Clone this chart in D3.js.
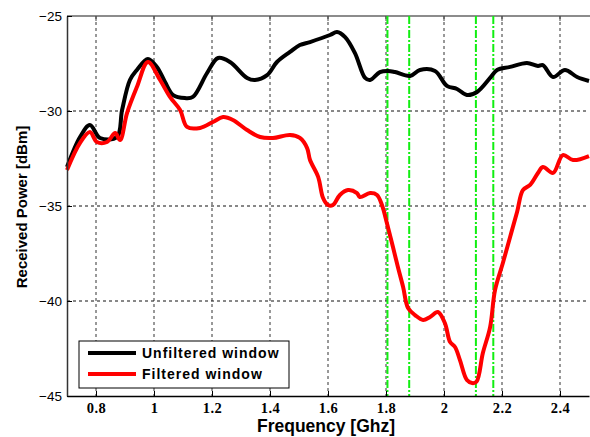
<!DOCTYPE html>
<html>
<head>
<meta charset="utf-8">
<script src="https://d3js.org/d3.v7.min.js"></script>
<style>
  body { margin: 0; background: #fff; }
  text { font-family: "Liberation Sans", Arial, sans-serif; }
</style>
</head>
<body>
<script>

// frequency [GHz] / received power [dBm]
var unfilteredF = [0.700,0.745,0.779,0.814,0.872,0.890,0.917,0.941,0.979,1.010,1.038,1.066,1.107,1.134,1.183,1.221,1.262,1.321,1.348,1.390,1.424,1.469,1.503,1.538,1.607,1.631,1.659,1.693,1.728,1.745,1.779,1.807,1.831,1.883,1.917,1.969,2.010,2.045,2.079,2.114,2.159,2.183,2.228,2.286,2.324,2.341,2.376,2.417,2.459,2.500];
var unfilteredP = [-32.95,-31.37,-30.74,-31.42,-31.37,-29.95,-28.37,-27.84,-27.26,-27.68,-28.47,-29.16,-29.32,-29.26,-28.00,-27.21,-27.42,-28.26,-28.37,-28.11,-27.42,-26.89,-26.53,-26.37,-26.00,-25.84,-26.11,-26.95,-28.26,-28.37,-27.95,-27.89,-27.95,-28.16,-27.84,-27.89,-28.68,-28.84,-29.16,-29.00,-28.26,-27.84,-27.68,-27.47,-27.63,-27.58,-28.21,-27.84,-28.21,-28.42];

var filteredF = [0.700,0.745,0.779,0.803,0.838,0.866,0.883,0.907,0.941,0.979,1.021,1.055,1.090,1.114,1.159,1.203,1.238,1.272,1.321,1.366,1.410,1.469,1.503,1.528,1.538,1.566,1.583,1.600,1.617,1.641,1.669,1.700,1.710,1.745,1.769,1.786,1.803,1.824,1.841,1.859,1.876,1.900,1.928,1.952,1.979,2.003,2.021,2.038,2.055,2.079,2.097,2.112,2.134,2.159,2.176,2.203,2.228,2.252,2.272,2.297,2.324,2.341,2.376,2.410,2.445,2.500];
var filteredP = [-33.11,-31.68,-31.11,-31.63,-31.63,-31.16,-31.53,-30.11,-28.74,-27.42,-28.37,-29.26,-29.95,-30.84,-30.89,-30.58,-30.32,-30.47,-31.00,-31.37,-31.42,-31.26,-31.42,-31.95,-32.58,-33.47,-34.58,-34.95,-34.95,-34.42,-34.16,-34.32,-34.53,-34.32,-34.42,-34.95,-35.89,-37.16,-38.21,-39.26,-40.37,-40.74,-41.00,-40.84,-40.58,-41.16,-42.16,-42.42,-43.11,-44.16,-44.32,-44.25,-42.74,-41.37,-39.42,-38.00,-36.63,-35.32,-34.16,-33.89,-33.26,-32.95,-33.26,-32.32,-32.58,-32.37];

// band edges (green dash-dot lines)
var bandEdges = [1.805, 1.880, 2.110, 2.170];

var xTicks = [0.8, 1, 1.2, 1.4, 1.6, 1.8, 2, 2.2, 2.4];
var yTicks = [-25, -30, -35, -40, -45];

var seriesNames = ["Unfiltered window", "Filtered window"];
var seriesColors = ["#000000", "#ff0000"];

var width = 590, height = 437;
var margin = {top: 16, right: 1, bottom: 41, left: 67};

var x = d3.scaleLinear().domain([0.7, 2.5]).range([margin.left, width - margin.right]);
var y = d3.scaleLinear().domain([-45, -25]).range([height - margin.bottom, margin.top]);

var svg = d3.select("body").append("svg")
    .attr("width", width)
    .attr("height", height);

// grid
svg.append("g")
  .selectAll("line")
  .data(xTicks)
  .enter().append("line")
    .attr("x1", function(d) { return x(d); })
    .attr("x2", function(d) { return x(d); })
    .attr("y1", y(-25))
    .attr("y2", y(-45))
    .attr("stroke", "#333")
    .attr("stroke-width", 1)
    .attr("stroke-dasharray", "3,3");

svg.append("g")
  .selectAll("line")
  .data(yTicks.slice(1, 4))
  .enter().append("line")
    .attr("x1", x(0.7))
    .attr("x2", x(2.5))
    .attr("y1", function(d) { return y(d); })
    .attr("y2", function(d) { return y(d); })
    .attr("stroke", "#111")
    .attr("stroke-width", 1)
    .attr("stroke-dasharray", "3,3");

// top border and its ticks
svg.append("line")
    .attr("x1", x(0.7)).attr("x2", width)
    .attr("y1", y(-25)).attr("y2", y(-25))
    .attr("stroke", "#666").attr("stroke-width", 1.5);

svg.append("g")
  .selectAll("line")
  .data(xTicks)
  .enter().append("line")
    .attr("x1", function(d) { return x(d); })
    .attr("x2", function(d) { return x(d); })
    .attr("y1", y(-25))
    .attr("y2", y(-25) + 5)
    .attr("stroke", "#444");

// band edges
svg.append("g")
  .selectAll("line")
  .data(bandEdges)
  .enter().append("line")
    .attr("x1", function(d) { return x(d); })
    .attr("x2", function(d) { return x(d); })
    .attr("y1", y(-25))
    .attr("y2", y(-45))
    .attr("stroke", "#11ee11")
    .attr("stroke-width", 2)
    .attr("stroke-dasharray", "8,2,2,2");

// curves
var line = d3.line()
    .x(function(d) { return x(d[0]); })
    .y(function(d) { return y(d[1]); })
    .curve(d3.curveCatmullRom.alpha(0.5));

var unfiltered = d3.zip(unfilteredF, unfilteredP);
var filtered = d3.zip(filteredF, filteredP);

svg.append("path")
    .datum(unfiltered)
    .attr("d", line)
    .attr("fill", "none")
    .attr("stroke", seriesColors[0])
    .attr("stroke-width", 4)
    .attr("stroke-linejoin", "round");

svg.append("path")
    .datum(filtered)
    .attr("d", line)
    .attr("fill", "none")
    .attr("stroke", seriesColors[1])
    .attr("stroke-width", 4)
    .attr("stroke-linejoin", "round");

// axes
var xAxis = svg.append("g")
    .attr("transform", "translate(0," + y(-45) + ")")
    .call(d3.axisBottom(x).tickValues(xTicks).tickSizeInner(-5).tickSizeOuter(0)
      .tickFormat(function(d) { return d3.format("")(d); }));
xAxis.select(".domain").attr("stroke", "#000").attr("stroke-width", 1.5);
xAxis.selectAll(".tick line").attr("stroke", "#000");
xAxis.selectAll("text")
    .attr("y", 17)
    .attr("dy", null)
    .style("font-family", "'Liberation Serif', 'Times New Roman', serif")
    .style("font-size", "14.5px")
    .style("font-weight", "bold")
    .style("letter-spacing", "0.5px")
    .attr("fill", "#000");

var yAxis = svg.append("g")
    .attr("transform", "translate(" + x(0.7) + ",0)")
    .call(d3.axisLeft(y).tickValues(yTicks).tickSizeInner(-5).tickSizeOuter(0));
yAxis.select(".domain").attr("stroke", "#333").attr("stroke-width", 1.5);
yAxis.selectAll(".tick line").attr("stroke", "#000");
yAxis.selectAll("text")
    .attr("x", -5)
    .style("font-size", "13.5px")
    .attr("fill", "#000");

// axis titles
svg.append("text")
    .attr("x", 326)
    .attr("y", 432)
    .attr("text-anchor", "middle")
    .style("font-size", "17.5px")
    .style("font-weight", "bold")
    .text("Frequency [Ghz]");

svg.append("text")
    .attr("transform", "translate(27," + (y(-35) + 1) + ") rotate(-90)")
    .attr("text-anchor", "middle")
    .style("font-size", "15px")
    .style("font-weight", "bold")
    .text("Received Power [dBm]");

// legend
var legend = svg.append("g").attr("transform", "translate(79,341)");
legend.append("rect")
    .attr("width", 210).attr("height", 47)
    .attr("fill", "#fff").attr("stroke", "#000").attr("stroke-width", 1);

seriesNames.forEach(function(name, i) {
  legend.append("line")
      .attr("x1", 9).attr("x2", 57)
      .attr("y1", 12 + i * 21).attr("y2", 12 + i * 21)
      .attr("stroke", seriesColors[i]).attr("stroke-width", 4);
  legend.append("text")
      .attr("x", 63).attr("y", 17 + i * 21)
      .style("font-size", "14px")
      .style("font-weight", "bold")
      .style("letter-spacing", "1px")
      .text(name);
});

</script>
</body>
</html>
